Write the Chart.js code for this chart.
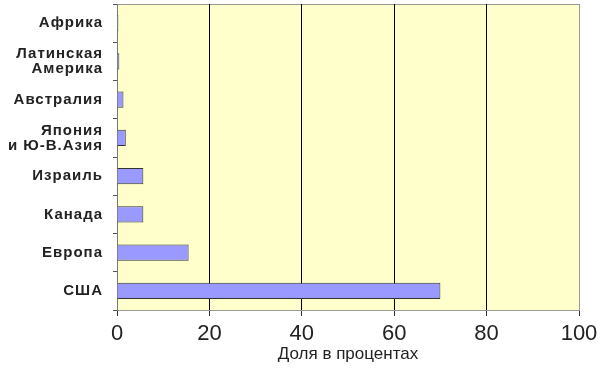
<!DOCTYPE html>
<html>
<head>
<meta charset="utf-8">
<script src="https://cdn.jsdelivr.net/npm/chart.js@4"></script>
<style>
  html, body { margin: 0; padding: 0; background: #fff; }
  #wrap { width: 600px; height: 368px; }
</style>
</head>
<body>
<div id="wrap"><canvas id="shareChart"></canvas></div>
<script>
// Data
const regions = ["Африка", ["Латинская", "Америка"], "Австралия", ["Япония", "и Ю-В.Азия"],
                 "Израиль", "Канада", "Европа", "США"];
const shares = [0.3, 0.5, 1.4, 1.9, 5.7, 5.7, 15.5, 70];
const axisTitle = "Доля в процентах";

// pale yellow plot area with a grey frame on top
const plotBackground = {
    id: "plotBackground",
    beforeDraw(chart) {
        const { ctx, chartArea: a } = chart;
        ctx.save();
        ctx.fillStyle = "#FFFFCC";
        ctx.fillRect(a.left, a.top, a.right - a.left, a.bottom - a.top);
        ctx.strokeStyle = "#999";
        ctx.lineWidth = 1;
        ctx.beginPath();
        ctx.moveTo(a.left, a.top + 0.5);
        ctx.lineTo(a.right, a.top + 0.5);
        ctx.stroke();
        ctx.restore();
    }
};

// category labels in the original are letter-spaced
const spacedLabels = {
    id: "spacedLabels",
    afterLayout(chart) {
        const s = chart.scales.y;
        if (s._spaced) return;
        const orig = s.drawLabels;
        s.drawLabels = function (area) {
            const c = this.ctx;
            const prev = c.letterSpacing;
            c.letterSpacing = "1px";
            orig.call(this, area);
            c.letterSpacing = prev || "0px";
        };
        s._spaced = true;
    }
};

const ctx = document.getElementById("shareChart").getContext("2d");
new Chart(ctx, {
    type: "bar",
    data: {
        labels: regions,
        datasets: [{
            data: shares,
            backgroundColor: "#9999FF",
            borderColor: "#333",
            borderWidth: 1,
            categoryPercentage: 1,
            barPercentage: 0.43
        }]
    },
    options: {
        indexAxis: "y",
        responsive: true,
        maintainAspectRatio: false,
        animation: false,
        layout: { padding: { top: 4, right: 21, left: 0, bottom: 0 } },
        plugins: {
            legend: { display: false },
            tooltip: { enabled: false }
        },
        scales: {
            x: {
                min: 0,
                max: 100,
                ticks: {
                    stepSize: 20,
                    color: "#222",
                    padding: 5,
                    font: { family: "'Liberation Sans', Arial, sans-serif", size: 22 }
                },
                grid: {
                    color: (c) => (c.tick && (c.tick.value === 0 || c.tick.value === 100)) ? "#999" : "#000",
                    tickColor: "#333",
                    tickLength: 6
                },
                border: { color: "#999" },
                title: {
                    display: true,
                    text: axisTitle,
                    color: "#222",
                    padding: { top: 0, bottom: 3 },
                    font: { family: "'Liberation Sans', Arial, sans-serif", size: 17 }
                },
                afterFit(scale) {
                    scale.height = 58;
                    scale.paddingLeft = 0;
                    scale.paddingRight = 0;
                }
            },
            y: {
                ticks: {
                    color: "#222",
                    padding: 10,
                    font: { family: "'Liberation Sans', Arial, sans-serif", size: 15, weight: "bold", lineHeight: 1.0 }
                },
                grid: {
                    drawOnChartArea: false,
                    color: "#555",
                    tickLength: 4
                },
                border: { color: "#777" },
                afterFit(scale) {
                    scale.width = 117;
                    scale.paddingTop = 0;
                    scale.paddingBottom = 0;
                }
            }
        }
    },
    plugins: [plotBackground, spacedLabels]
});
</script>
</body>
</html>
